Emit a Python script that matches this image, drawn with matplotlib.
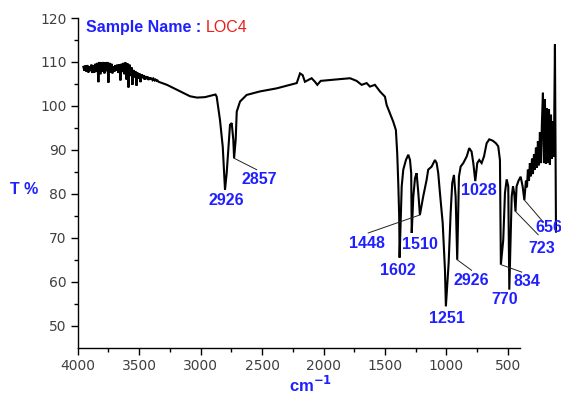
import numpy as np
import matplotlib
matplotlib.use("Agg")
import matplotlib.pyplot as plt

# FTIR transmittance spectrum, sample LOC4
wavenumber = np.array([
    4000, 3992, 3985, 3977, 3970, 3962, 3954, 3947, 3939, 3932,
    3924, 3916, 3909, 3901, 3894, 3886, 3878, 3871, 3863, 3856,
    3848, 3840, 3833, 3825, 3818, 3810, 3802, 3795, 3787, 3780,
    3772, 3764, 3757, 3749, 3742, 3734, 3726, 3719, 3711, 3704,
    3696, 3688, 3681, 3673, 3666, 3658, 3650, 3643, 3635, 3628,
    3620, 3612, 3605, 3597, 3590, 3582, 3574, 3567, 3559, 3552,
    3544, 3536, 3529, 3521, 3514, 3506, 3498, 3491, 3483, 3476,
    3468, 3460, 3453, 3445, 3438, 3430,
    3366, 3305, 3245, 3191, 3138, 3078, 3025, 2998,
    2989, 2964, 2943, 2926, 2913, 2901, 2888, 2875, 2863, 2857,
    2845, 2837, 2812, 2762, 2661, 2534, 2433, 2382, 2357, 2337,
    2320, 2294, 2269, 2244, 2226, 2200, 2130, 2054, 1978, 1928,
    1890, 1852, 1827, 1789, 1751, 1713, 1700, 1675, 1650, 1630,
    1620, 1612, 1605, 1602, 1586, 1574, 1554, 1536, 1523, 1514,
    1510, 1498, 1485, 1473, 1460, 1448, 1423, 1397, 1385, 1359,
    1334, 1321, 1309, 1296, 1275, 1258, 1251, 1230, 1215, 1203,
    1190, 1177, 1165, 1152, 1139, 1119, 1093, 1074, 1056, 1043,
    1028, 1013, 998, 980, 962, 942, 922, 896, 871, 854,
    841, 838, 834, 816, 803, 790, 778, 770, 752, 742,
    733, 723, 715, 700, 684, 669, 656,
    644, 636, 629, 621, 614, 606, 598, 591, 583, 576,
    568, 560, 553, 545, 538, 530, 523, 515, 507, 500,
    492, 485, 477, 469, 462, 454, 447, 439, 432, 424,
    416,
])
transmittance = np.array([
    108.9, 108.0, 109.2, 107.8, 109.3, 107.6, 109.0, 107.9, 109.4, 107.5,
    109.3, 107.6, 109.6, 107.8, 109.8, 105.4, 110.0, 107.2, 109.9, 107.8,
    110.0, 107.4, 109.9, 107.9, 110.0, 105.3, 109.8, 107.6, 109.6, 107.4,
    109.0, 107.8, 109.3, 108.0, 109.4, 107.5, 109.5, 105.8, 109.6, 107.7,
    109.8, 107.2, 109.9, 106.0, 109.7, 104.2, 109.4, 106.8, 108.8, 104.8,
    108.2, 106.5, 107.9, 104.6, 107.6, 106.2, 107.4, 105.4, 107.2, 106.3,
    107.0, 106.0, 106.8, 106.1, 106.7, 105.9, 106.5, 106.0, 106.4, 105.9,
    106.2, 105.8, 106.0, 105.7, 105.8, 105.5,
    104.8, 103.9, 103.0, 102.2, 101.9, 102.0, 102.4, 102.6,
    102.1, 96.8, 90.7, 80.9, 84.8, 90.0, 95.7, 96.1, 92.3, 88.1,
    92.3, 98.7, 101.0, 102.5, 103.3, 104.0, 104.8, 105.2, 107.4, 107.0,
    105.5, 105.9, 106.3, 105.5, 104.8, 105.7, 105.9, 106.1, 106.3, 105.7,
    104.8, 105.2, 104.4, 104.8, 103.3, 102.1, 100.2, 98.3, 96.4, 94.5,
    89.2, 82.4, 74.8, 65.5, 81.7, 85.5, 87.7, 88.9, 87.7, 84.7,
    71.1, 79.4, 83.6, 84.7, 80.2, 75.2, 79.4, 83.2, 85.5, 86.2,
    87.7, 87.0, 84.7, 80.2, 73.3, 62.7, 54.4, 64.3, 75.6, 82.4,
    84.3, 79.4, 65.0, 83.9, 86.2, 87.0, 88.5, 90.4, 89.6, 87.0,
    82.9, 87.0, 87.7, 87.0, 88.5, 91.5, 92.4, 92.1, 91.5, 90.8,
    87.7, 77.1, 63.9, 69.5, 80.2, 83.3, 81.7, 58.2, 79.4, 81.7,
    80.2, 76.0, 81.7, 83.0, 83.9, 81.7, 78.6,
    83.0, 81.5, 85.5, 83.0, 87.0, 84.0, 88.0, 84.5, 89.0, 85.5,
    90.5, 86.0, 92.0, 86.5, 94.0, 87.0, 96.0, 103.0, 87.0, 101.5,
    86.8, 99.5, 87.0, 99.2, 86.6, 98.0, 88.0, 96.5, 88.5, 114.0,
    71.4,
])

# labelled bands: text, band position, band %T
peak_text = ["2926", "2857", "1448", "1510", "1602", "1251", "2926", "1028", "834", "770", "723", "656"]
peak_wn = [2926, 2857, 1448, 1510, 1602, 1251, 1165, 1028, 834, 770, 723, 656]
peak_t = [80.9, 88.1, 75.2, 71.1, 65.5, 54.4, 65.0, 82.9, 63.9, 58.2, 76.0, 78.6]

# where each label sits and where its leader line ends (None = no leader)
label_xy = [(2918, 78.4), (2668, 83.2), (1852, 68.7), (1448, 68.5), (1614, 62.5), (1243, 51.6),
            (1061, 60.4), (1000, 80.8), (636, 60.1), (803, 55.9), (525, 67.6), (576, 72.4)]
leader_end = [None, (2686, 85.5), (1840, 71.1), None, None, None,
              (1056, 62.6), None, (676, 62.2), None, (551, 70.7), (513, 73.6)]

blue = "#2020ff"
red = "#ee1c1c"

fig = plt.figure(figsize=(5.61, 4.03), dpi=100)
rect = [0.1385, 0.1372, 0.7884, 0.8181]

ax = fig.add_axes(rect)
ax.set_xlim(4000, 402)
ax.set_ylim(45, 120)
ax.set_xticks([4000, 3500, 3000, 2500, 2000, 1500, 1000, 500])
ax.set_xticks(np.arange(3750, 400, -500), minor=True)
ax.set_yticks([50, 60, 70, 80, 90, 100, 110, 120])
ax.set_yticks(np.arange(55, 120, 10), minor=True)
ax.spines["top"].set_visible(False)
ax.spines["right"].set_visible(False)
for s in ["left", "bottom"]:
    ax.spines[s].set_linewidth(1.0)
ax.tick_params(which="major", length=5, width=1, direction="out", labelsize=10,
               labelcolor="#404040", pad=3)
ax.tick_params(which="minor", length=3, width=1, direction="out")

# spectrum axes on top, sharing the same frame
ax2 = fig.add_axes(rect, frameon=False)
ax2.set_xlim(4043, 689)
ax2.set_ylim(45, 120)
ax2.set_xticks([])
ax2.set_yticks([])
ax2.plot(wavenumber, transmittance, color="black", lw=1.5, clip_on=False,
         solid_joinstyle="miter")

for txt, wx, ty, (lx, ly), end in zip(peak_text, peak_wn, peak_t, label_xy, leader_end):
    if end is not None:
        ax2.plot([wx, end[0]], [ty, end[1]], color="#222222", lw=0.7, clip_on=False)
    ha = "left" if txt == "656" else "center"
    ax2.text(lx, ly, txt, color=blue, fontsize=11.5, fontweight="bold",
             family="Liberation Sans", ha=ha, va="center", clip_on=False)

fig.text(0.153, 0.933, "Sample Name :", color=blue, fontsize=11.5, fontweight="bold",
         family="Liberation Sans", ha="left", va="center")
fig.text(0.367, 0.933, "LOC4", color=red, fontsize=11.5,
         family="Liberation Sans", ha="left", va="center")
fig.text(0.018, 0.531, "T %", color=blue, fontsize=11.5, fontweight="bold",
         family="Liberation Sans", ha="left", va="center")
fig.text(0.553, 0.02, r"cm$^{\mathbf{-1}}$", color=blue, fontsize=12, fontweight="bold",
         family="Liberation Sans", ha="center", va="bottom")

fig.savefig("out.png", dpi=100)
